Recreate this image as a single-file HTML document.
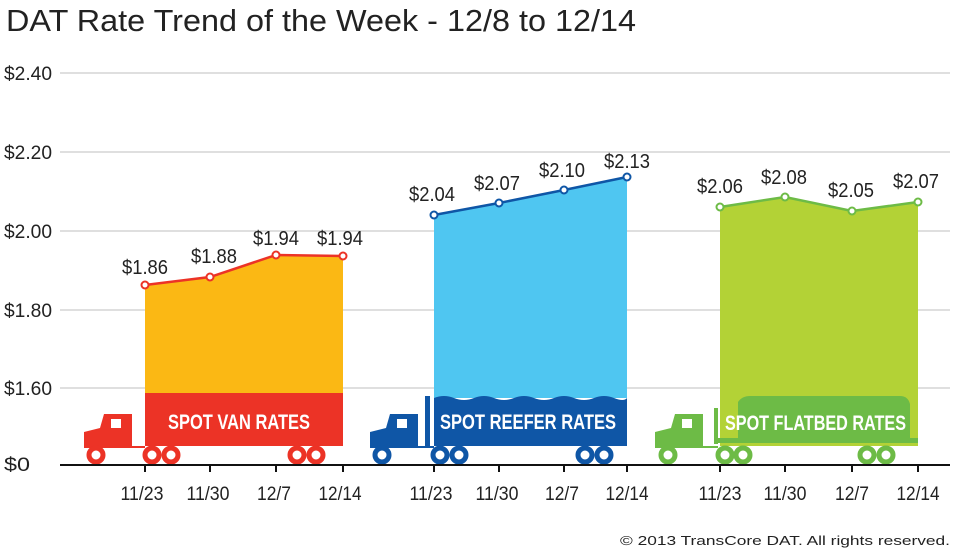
<!DOCTYPE html>
<html><head><style>
html,body{margin:0;padding:0;background:#fff;width:980px;height:552px;overflow:hidden}
svg text{font-family:"Liberation Sans",sans-serif}
</style></head><body>
<svg width="980" height="552" viewBox="0 0 980 552" xmlns="http://www.w3.org/2000/svg">
<text x="6" y="31" font-size="31" fill="#222" textLength="630" lengthAdjust="spacingAndGlyphs">DAT Rate Trend of the Week - 12/8 to 12/14</text>
<g stroke="#ccc" stroke-width="1.2">
<line x1="60" y1="73" x2="950" y2="73"/><line x1="60" y1="152" x2="950" y2="152"/>
<line x1="60" y1="231" x2="950" y2="231"/><line x1="60" y1="310" x2="950" y2="310"/>
<line x1="60" y1="388" x2="950" y2="388"/>
</g>
<g font-size="19" fill="#222">
<text x="4" y="80" textLength="48" lengthAdjust="spacingAndGlyphs">$2.40</text><text x="4" y="159" textLength="48" lengthAdjust="spacingAndGlyphs">$2.20</text><text x="4" y="238" textLength="48" lengthAdjust="spacingAndGlyphs">$2.00</text>
<text x="4" y="317" textLength="48" lengthAdjust="spacingAndGlyphs">$1.80</text><text x="4" y="395" textLength="48" lengthAdjust="spacingAndGlyphs">$1.60</text><text x="4" y="471" textLength="26" lengthAdjust="spacingAndGlyphs">$0</text>
</g>
<!-- VAN -->
<polygon points="145,285 210,277 276,255 343,256 343,395 145,395" fill="#fbb814"/>
<rect x="145" y="393" width="198" height="53" fill="#ec3326"/>
<text x="168" y="429" font-size="21" font-weight="bold" fill="#fff" textLength="142" lengthAdjust="spacingAndGlyphs">SPOT VAN RATES</text>
<path d="M84,448 L84,432 L100,428 L104,414 L132,414 L132,446 L145,446 L145,448 Z" fill="#ec3326"/>
<rect x="111" y="419" width="10" height="9" fill="#fff"/>
<g fill="#fff" stroke="#ec3326" stroke-width="5">
<circle cx="96" cy="455" r="7"/><circle cx="152" cy="455" r="7"/><circle cx="171" cy="455" r="7"/>
<circle cx="297" cy="455" r="7"/><circle cx="316" cy="455" r="7"/></g>
<polyline points="145,285 210,277 276,255 343,256" fill="none" stroke="#ec3326" stroke-width="2.5"/>
<g fill="#fff" stroke="#ec3326" stroke-width="2"><circle cx="145" cy="285" r="3.5"/><circle cx="210" cy="277" r="3.5"/><circle cx="276" cy="255" r="3.5"/><circle cx="343" cy="256" r="3.5"/></g>
<g font-size="20" fill="#222"><text x="122" y="274" textLength="46" lengthAdjust="spacingAndGlyphs">$1.86</text><text x="191" y="263" textLength="46" lengthAdjust="spacingAndGlyphs">$1.88</text><text x="253" y="245" textLength="46" lengthAdjust="spacingAndGlyphs">$1.94</text><text x="317" y="245" textLength="46" lengthAdjust="spacingAndGlyphs">$1.94</text></g>
<!-- REEFER -->
<polygon points="434,215 499,203 564,190 627,177 627,398 434,398" fill="#4fc6f1"/>
<path d="M434,398 q10,-4 20,0 t20,0 t20,0 t20,0 t20,0 t20,0 t20,0 t20,0 t20,0 t13,0 L627,446 L434,446 Z" fill="#0f56a6"/>
<rect x="425" y="396" width="5" height="50" fill="#0f56a6"/>
<text x="440" y="429" font-size="21" font-weight="bold" fill="#fff" textLength="176" lengthAdjust="spacingAndGlyphs">SPOT REEFER RATES</text>
<path d="M370,448 L370,432 L386,428 L390,414 L418,414 L418,446 L434,446 L434,448 Z" fill="#0f56a6"/>
<rect x="397" y="419" width="10" height="9" fill="#fff"/>
<g fill="#fff" stroke="#0f56a6" stroke-width="5">
<circle cx="382" cy="455" r="7"/><circle cx="440" cy="455" r="7"/><circle cx="459" cy="455" r="7"/>
<circle cx="585" cy="455" r="7"/><circle cx="604" cy="455" r="7"/></g>
<polyline points="434,215 499,203 564,190 627,177" fill="none" stroke="#0f56a6" stroke-width="2.5"/>
<g fill="#fff" stroke="#0f56a6" stroke-width="2"><circle cx="434" cy="215" r="3.5"/><circle cx="499" cy="203" r="3.5"/><circle cx="564" cy="190" r="3.5"/><circle cx="627" cy="177" r="3.5"/></g>
<g font-size="20" fill="#222"><text x="409" y="201" textLength="46" lengthAdjust="spacingAndGlyphs">$2.04</text><text x="474" y="190" textLength="46" lengthAdjust="spacingAndGlyphs">$2.07</text><text x="539" y="177" textLength="46" lengthAdjust="spacingAndGlyphs">$2.10</text><text x="604" y="168" textLength="46" lengthAdjust="spacingAndGlyphs">$2.13</text></g>
<!-- FLATBED -->
<polygon points="720,207 785,197 852,211 918,202 918,446 720,446" fill="#b3d236"/>
<path d="M738,438 L738,402 q4,-6 12,-6 L900,396 q8,0 10,8 L910,438 Z" fill="#6dbb46"/>
<rect x="718" y="438" width="200" height="5" fill="#6dbb46"/>
<rect x="714" y="408" width="4" height="36" fill="#6dbb46"/>
<text x="725" y="430" font-size="21" font-weight="bold" fill="#fff" textLength="181" lengthAdjust="spacingAndGlyphs">SPOT FLATBED RATES</text>
<path d="M655,448 L655,432 L671,428 L675,414 L703,414 L703,446 L718,446 L718,448 Z" fill="#6dbb46"/>
<rect x="682" y="419" width="10" height="9" fill="#fff"/>
<g fill="#fff" stroke="#6dbb46" stroke-width="5">
<circle cx="668" cy="455" r="7"/><circle cx="725" cy="455" r="7"/><circle cx="743" cy="455" r="7"/>
<circle cx="867" cy="455" r="7"/><circle cx="886" cy="455" r="7"/></g>
<polyline points="720,207 785,197 852,211 918,202" fill="none" stroke="#6dbb46" stroke-width="2.5"/>
<g fill="#fff" stroke="#6dbb46" stroke-width="2"><circle cx="720" cy="207" r="3.5"/><circle cx="785" cy="197" r="3.5"/><circle cx="852" cy="211" r="3.5"/><circle cx="918" cy="202" r="3.5"/></g>
<g font-size="20" fill="#222"><text x="697" y="193" textLength="46" lengthAdjust="spacingAndGlyphs">$2.06</text><text x="761" y="184" textLength="46" lengthAdjust="spacingAndGlyphs">$2.08</text><text x="828" y="197" textLength="46" lengthAdjust="spacingAndGlyphs">$2.05</text><text x="893" y="188" textLength="46" lengthAdjust="spacingAndGlyphs">$2.07</text></g>
<!-- axis -->
<line x1="60" y1="465" x2="950" y2="465" stroke="#111" stroke-width="2"/>
<g stroke="#111" stroke-width="2">
<line x1="145" y1="465" x2="145" y2="472"/><line x1="210" y1="465" x2="210" y2="472"/><line x1="276" y1="465" x2="276" y2="472"/><line x1="343" y1="465" x2="343" y2="472"/>
<line x1="434" y1="465" x2="434" y2="472"/><line x1="499" y1="465" x2="499" y2="472"/><line x1="564" y1="465" x2="564" y2="472"/><line x1="627" y1="465" x2="627" y2="472"/>
<line x1="720" y1="465" x2="720" y2="472"/><line x1="785" y1="465" x2="785" y2="472"/><line x1="852" y1="465" x2="852" y2="472"/><line x1="918" y1="465" x2="918" y2="472"/>
</g>
<g font-size="19" fill="#222" text-anchor="middle">
<text x="142" y="500" textLength="43" lengthAdjust="spacingAndGlyphs">11/23</text><text x="208" y="500" textLength="43" lengthAdjust="spacingAndGlyphs">11/30</text><text x="274" y="500" textLength="34" lengthAdjust="spacingAndGlyphs">12/7</text><text x="340" y="500" textLength="43" lengthAdjust="spacingAndGlyphs">12/14</text>
<text x="431" y="500" textLength="43" lengthAdjust="spacingAndGlyphs">11/23</text><text x="497" y="500" textLength="43" lengthAdjust="spacingAndGlyphs">11/30</text><text x="562" y="500" textLength="34" lengthAdjust="spacingAndGlyphs">12/7</text><text x="627" y="500" textLength="43" lengthAdjust="spacingAndGlyphs">12/14</text>
<text x="720" y="500" textLength="43" lengthAdjust="spacingAndGlyphs">11/23</text><text x="785" y="500" textLength="43" lengthAdjust="spacingAndGlyphs">11/30</text><text x="852" y="500" textLength="34" lengthAdjust="spacingAndGlyphs">12/7</text><text x="918" y="500" textLength="43" lengthAdjust="spacingAndGlyphs">12/14</text>
</g>
<text x="620" y="545" font-size="13" fill="#222" textLength="330" lengthAdjust="spacingAndGlyphs">© 2013 TransCore DAT. All rights reserved.</text>
</svg>
</body></html>
